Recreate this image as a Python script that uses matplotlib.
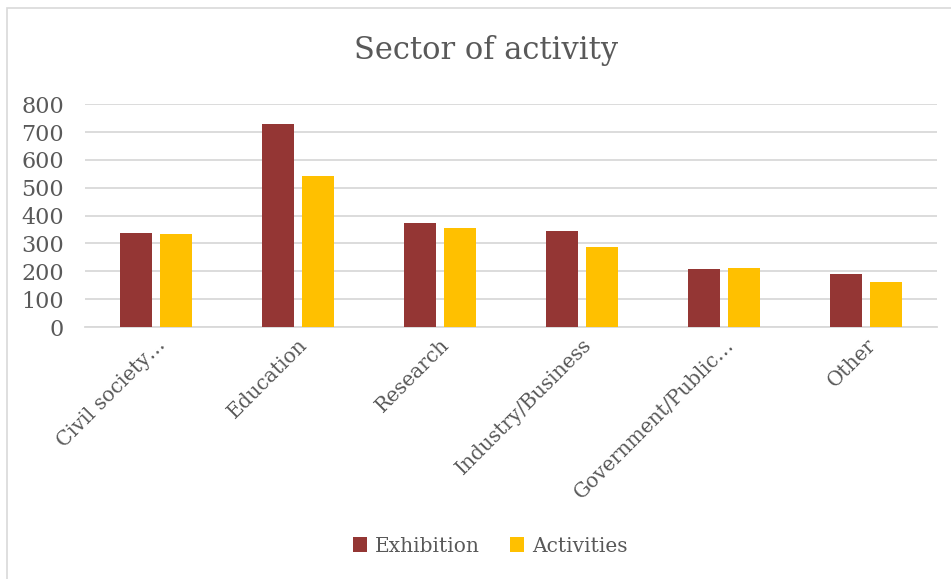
import matplotlib
matplotlib.use("Agg")
import matplotlib.pyplot as plt
import numpy as np
from matplotlib.patches import Rectangle

categories = ["Civil society…", "Education", "Research", "Industry/Business",
              "Government/Public…", "Other"]
exhibition = [336, 730, 373, 344, 210, 190]
activities = [334, 543, 355, 288, 211, 161]
y_ticks = [0, 100, 200, 300, 400, 500, 600, 700, 800]

TEXT = "#595959"
GRID = "#d9d9d9"
FONT = "DejaVu Serif"

W, H = 951, 579
fig = plt.figure(figsize=(W / 100, H / 100), dpi=100)
fig.patch.set_facecolor("white")

# chart frame
fig.add_artist(Rectangle((6.5 / W, -0.1), 1.2, 1 - 7.5 / H + 0.1,
                         transform=fig.transFigure, fill=False,
                         edgecolor=GRID, linewidth=1.2))

left, right = 85 / W, 937 / W
bottom, top = 1 - 327 / H, 1 - 104.3 / H
ax = fig.add_axes([left, bottom, right - left, top - bottom])

x = np.arange(len(categories))
bw = 0.225
off = 0.141
ax.bar(x - off, exhibition, width=bw, color="#943634", label="Exhibition", zorder=3)
ax.bar(x + off, activities, width=bw, color="#FFC000", label="Activities", zorder=3)

ax.set_xlim(-0.5, len(categories) - 0.5)
ax.set_ylim(0, 800)
ax.set_yticks(y_ticks)
ax.set_yticklabels([str(v) for v in y_ticks], fontfamily=FONT, fontsize=16, color=TEXT)
ax.yaxis.grid(True, color=GRID, linewidth=1.3, zorder=0)
ax.tick_params(axis="y", length=0, pad=15)
ax.tick_params(axis="x", length=0, pad=6)
ax.set_xticks(x)
ax.set_xticklabels(categories, rotation=45, ha="right", rotation_mode="anchor",
                   fontfamily=FONT, fontsize=14.5, color=TEXT)
for s in ["left", "right", "top"]:
    ax.spines[s].set_visible(False)
ax.spines["bottom"].set_color(GRID)
ax.spines["bottom"].set_linewidth(1.3)

fig.text(486 / W, 1 - 50 / H, "Sector of activity", ha="center", va="center",
         fontfamily=FONT, fontsize=22, color=TEXT)

fig.legend(loc="center", bbox_to_anchor=(490 / W, 1 - 546 / H), ncol=2, frameon=False,
           prop={"family": FONT, "size": 14.5}, labelcolor=TEXT,
           handlelength=0.7, handleheight=0.7, handletextpad=0.4, columnspacing=1.5)

fig.savefig("out.png", dpi=100, facecolor="white")
